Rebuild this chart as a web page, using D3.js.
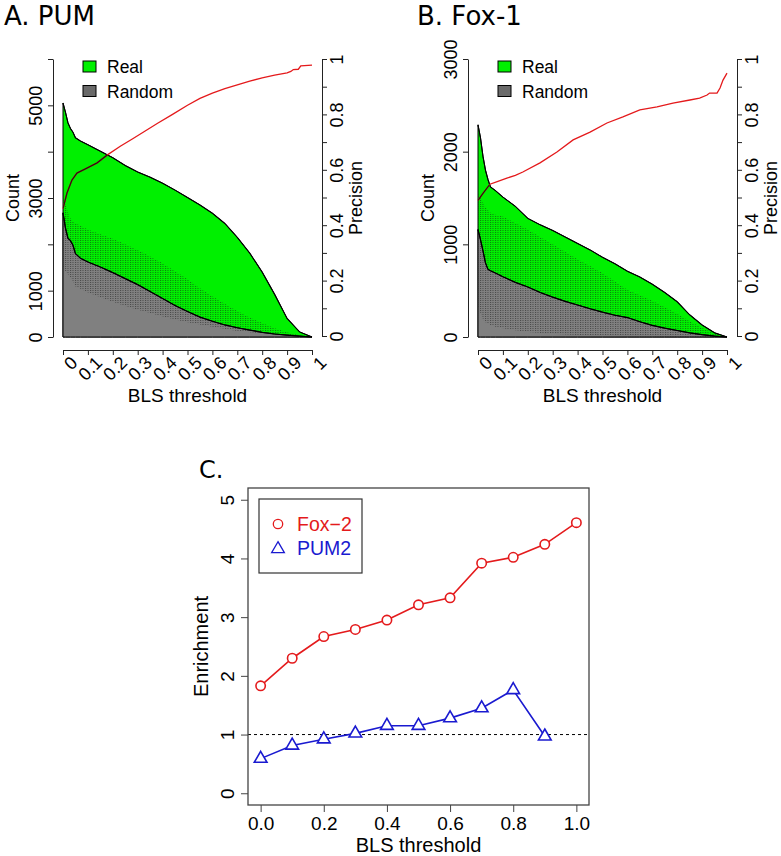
<!DOCTYPE html>
<html><head><meta charset="utf-8">
<script src="https://cdn.jsdelivr.net/npm/d3@7"></script>
<style>
body{margin:0;background:#fff;}
svg{display:block;font-family:"Liberation Sans",Arial,Helvetica,sans-serif;}
</style></head><body>
<svg id="c" width="781" height="856"></svg>
<script>
// ---------- data ----------
const gridX = [0,0.01,0.02,0.03,0.04,0.05,0.07,0.1,0.15,0.2,0.25,0.3,0.35,0.4,0.45,0.5,0.55,0.6,0.65,0.7,0.75,0.8,0.85,0.9,0.95,1];

const pumReal   = [5050,4850,4620,4500,4420,4300,4230,4150,4010,3870,3700,3560,3450,3320,3170,3010,2850,2670,2450,2150,1810,1400,920,400,110,0];
const pumRandom = [2680,2350,2130,2080,1980,1800,1700,1620,1510,1390,1260,1130,980,830,680,550,430,340,260,200,150,100,65,40,20,0];
const pumHigh   = [3000,2850,2700,2560,2490,2460,2400,2320,2220,2120,2000,1880,1740,1590,1420,1250,1050,880,720,560,420,300,190,100,40,0];
const pumLow    = [1500,1420,1350,1280,1200,1090,1040,960,860,760,670,590,520,440,380,320,270,220,170,130,100,80,50,30,12,0];
const pumPrecX  = [0,0.016,0.036,0.056,0.096,0.137,0.177,0.23,0.28,0.33,0.38,0.44,0.5,0.55,0.6,0.65,0.7,0.75,0.8,0.85,0.9,0.915,0.925,0.945,0.955,1];
const pumPrec   = [0.46,0.516,0.563,0.588,0.606,0.625,0.653,0.685,0.712,0.74,0.768,0.8,0.833,0.858,0.877,0.893,0.907,0.92,0.932,0.942,0.95,0.955,0.962,0.963,0.975,0.978];

const foxReal   = [2290,2150,1950,1800,1700,1620,1580,1510,1410,1280,1210,1150,1080,1010,940,860,790,710,647,570,480,380,240,130,45,0];
const foxRandom = [1160,1050,930,800,730,715,690,650,590,540,480,430,385,345,305,268,235,210,165,125,95,70,45,25,10,0];
const foxHigh   = [1550,1500,1450,1400,1370,1340,1320,1300,1230,1160,1080,1000,920,840,765,690,600,510,450,390,320,250,170,100,40,0];
const foxLow    = [330,260,190,160,145,130,110,95,72,55,44,35,28,22,18,14,11,8,6,5,4,3,2,1,0,0];
const foxPrecX  = [0,0.02,0.048,0.08,0.116,0.15,0.18,0.249,0.317,0.382,0.45,0.518,0.582,0.65,0.719,0.783,0.851,0.89,0.92,0.93,0.96,0.972,0.984,1];
const foxPrec   = [0.49,0.515,0.548,0.558,0.57,0.58,0.592,0.625,0.664,0.708,0.736,0.769,0.791,0.816,0.827,0.841,0.852,0.859,0.87,0.877,0.877,0.895,0.924,0.949];

const blsTicks  = [0,0.1,0.2,0.3,0.4,0.5,0.6,0.7,0.8,0.9,1];
const blsLabels = ["0","0.1","0.2","0.3","0.4","0.5","0.6","0.7","0.8","0.9","1"];
const precTicks = [0,0.1,0.2,0.3,0.4,0.5,0.6,0.7,0.8,0.9,1];
const precLabels= ["0","","0.2","","0.4","","0.6","","0.8","","1"];
const pumCountTicks  = [0,1000,2000,3000,4000,5000,6000];
const pumCountLabels = ["0","1000","","3000","","5000",""];
const foxCountTicks  = [0,1000,2000,3000];
const foxCountLabels = ["0","1000","2000","3000"];
const legendTop = ["Real","Random"];

const enrX     = [0,0.1,0.2,0.3,0.4,0.5,0.6,0.7,0.8,0.9,1.0];
const fox2Enr  = [1.83,2.30,2.67,2.79,2.95,3.21,3.33,3.92,4.02,4.24,4.61];
const pum2X    = [0,0.1,0.2,0.3,0.4,0.5,0.6,0.7,0.8,0.9];
const pum2Enr  = [0.59,0.815,0.92,1.02,1.15,1.15,1.28,1.45,1.76,0.97];
const enrXTicks = [0,0.2,0.4,0.6,0.8,1.0];
const enrYTicks = [0,1,2,3,4,5];
const legendC = ["Fox\u22122","PUM2"];

// ---------- style ----------
const GREEN = "#00f000", GRAY = "#808080", LEGGRAY = "#6a6a6a", RED = "#e41a1c", BLUE = "#1a1ad0";
const svg = d3.select("#c");
const defs = svg.append("defs");
const pat = defs.append("pattern").attr("id","stip").attr("patternUnits","userSpaceOnUse")
  .attr("width",2.5).attr("height",2);
pat.append("rect").attr("width",1).attr("height",1).attr("fill","#1a1a1a").attr("fill-opacity",0.55);

function topPanel(o){
  const g = svg.append("g");
  const x = d3.scaleLinear().domain([0,1]).range([o.x0, o.x0+249]);
  const y = d3.scaleLinear().domain([0,o.yMax]).range([337,59]);
  const yp = d3.scaleLinear().domain([0,1]).range([336,59]);
  const area = d3.area().x((d,i)=>x(gridX[i])).y0(y(0)).y1(d=>y(d));
  const band = d3.area().x((d,i)=>x(gridX[i])).y0((d,i)=>y(o.low[i])).y1((d,i)=>y(o.high[i]));
  const realD = area(o.real) + "";
  g.append("path").attr("d", realD).attr("fill", GREEN).attr("stroke","#000").attr("stroke-width",1);
  g.append("path").attr("d", area(o.random)).attr("fill", GRAY).attr("stroke","#000").attr("stroke-width",1);
  g.append("path").attr("d", band(o.real)).attr("fill","url(#stip)");
  const ln = d3.line().x((d,i)=>x(gridX[i])).y(d=>y(d));
  g.append("path").attr("d", ln(o.random)).attr("fill","none").attr("stroke","#000").attr("stroke-width",1.2);
  g.append("path").attr("d", ln(o.real)).attr("fill","none").attr("stroke","#000").attr("stroke-width",1.1);
  // precision
  const cid = "clip"+o.id;
  defs.append("clipPath").attr("id",cid).append("path").attr("d", realD);
  const pl = d3.line().x((d,i)=>x(o.precX[i])).y(d=>yp(d));
  g.append("path").attr("d", pl(o.prec)).attr("fill","none").attr("stroke",RED).attr("stroke-width",1.3);
  g.append("path").attr("d", pl(o.prec)).attr("fill","none").attr("stroke","#2a1a10").attr("stroke-width",1.3)
    .attr("clip-path",`url(#${cid})`);

  // left axis
  const la = g.append("g").attr("transform",`translate(${o.x0-10},0)`)
    .call(d3.axisLeft(y).tickValues(o.yTicks).tickSize(5).tickSizeOuter(0).tickFormat((d,i)=>o.yLabels[i]));
  la.selectAll("text").attr("x",null).attr("dy",null).attr("text-anchor","middle")
    .attr("transform","translate(-11.5,0) rotate(-90)");
  // right axis
  const ra = g.append("g").attr("transform",`translate(${o.x0+259},0)`)
    .call(d3.axisRight(yp).tickValues(precTicks).tickSize(5).tickSizeOuter(0).tickFormat((d,i)=>precLabels[i]));
  ra.selectAll("text").attr("x",null).attr("dy",null).attr("text-anchor","middle")
    .attr("transform","translate(20.5,0) rotate(-90)");
  // bottom axis
  const ba = g.append("g").attr("transform","translate(0,350)")
    .call(d3.axisBottom(x).tickValues(blsTicks).tickSize(5).tickSizeOuter(0).tickFormat((d,i)=>blsLabels[i]));
  ba.selectAll("text").attr("y",null).attr("dy",null).attr("text-anchor","end")
    .attr("transform","translate(15,14) rotate(-45)");
  [la,ra,ba].forEach(a=>{
    a.selectAll("text").attr("font-size",18).attr("fill","#000").attr("font-family","Liberation Sans, Arial, sans-serif");
    a.selectAll("path,line").attr("stroke","#222");
  });
  // axis titles
  g.append("text").attr("transform",`translate(${o.x0-44},198) rotate(-90)`).attr("text-anchor","middle")
    .attr("font-size",18).text("Count");
  g.append("text").attr("transform",`translate(${o.x0+299},198) rotate(-90)`).attr("text-anchor","middle")
    .attr("font-size",18).text("Precision");
  g.append("text").attr("x",o.x0+124.5).attr("y",402).attr("text-anchor","middle").attr("font-size",19).text("BLS threshold");
  // legend
  const lx = o.x0+20;
  [GREEN, LEGGRAY].forEach((c,i)=>{
    g.append("rect").attr("x",lx).attr("y",61+i*24.5).attr("width",13).attr("height",11)
      .attr("fill",c).attr("stroke","#000").attr("stroke-width",1);
    g.append("text").attr("x",lx+24).attr("y",73+i*24.5).attr("font-size",17.5).text(legendTop[i]);
  });
  // title
  svg.append("text").attr("x",o.tx).attr("y",25).attr("font-family","DejaVu Sans, sans-serif")
    .attr("font-size",26).text(o.title);
}

topPanel({id:"A", x0:63, yMax:6000, yTicks:pumCountTicks, yLabels:pumCountLabels,
  real:pumReal, random:pumRandom, high:pumHigh, low:pumLow, precX:pumPrecX, prec:pumPrec, title:"A. PUM", tx:4});
topPanel({id:"B", x0:478, yMax:3000, yTicks:foxCountTicks, yLabels:foxCountLabels,
  real:foxReal, random:foxRandom, high:foxHigh, low:foxLow, precX:foxPrecX, prec:foxPrec, title:"B. Fox-1", tx:417});

// ---------- panel C ----------
(function(){
  const g = svg.append("g");
  const L=248, R=589, T=488, B=805;
  const x = d3.scaleLinear().domain([-0.04,1.04]).range([L,R]);
  const y = d3.scaleLinear().domain([-0.2,5.2]).range([B,T]);
  g.append("line").attr("x1",L).attr("x2",R).attr("y1",y(1)).attr("y2",y(1))
    .attr("stroke","#000").attr("stroke-width",1).attr("stroke-dasharray","3,3");
  // lines
  const lr = d3.line().x((d,i)=>x(enrX[i])).y(d=>y(d));
  g.append("path").attr("d",lr(fox2Enr)).attr("fill","none").attr("stroke",RED).attr("stroke-width",1.6);
  const lb = d3.line().x((d,i)=>x(pum2X[i])).y(d=>y(d));
  g.append("path").attr("d",lb(pum2Enr)).attr("fill","none").attr("stroke",BLUE).attr("stroke-width",1.6);
  g.selectAll("circle.f").data(fox2Enr).join("circle").attr("class","f")
    .attr("cx",(d,i)=>x(enrX[i])).attr("cy",d=>y(d)).attr("r",4.7)
    .attr("fill","#fff").attr("stroke",RED).attr("stroke-width",1.6);
  const tri = (cx,cy)=>`M${cx},${cy-7.3}L${cx+6.35},${cy+3.67}L${cx-6.35},${cy+3.67}Z`;
  g.selectAll("path.t").data(pum2Enr).join("path").attr("class","t")
    .attr("d",(d,i)=>tri(x(pum2X[i]),y(d))).attr("fill","#fff").attr("stroke",BLUE).attr("stroke-width",1.6);
  // box
  g.append("rect").attr("x",L).attr("y",T).attr("width",R-L).attr("height",B-T)
    .attr("fill","none").attr("stroke","#444").attr("stroke-width",1.3);
  const bx = g.append("g").attr("transform",`translate(0,${B})`)
    .call(d3.axisBottom(x).tickValues(enrXTicks).tickSize(7).tickFormat(d3.format(".1f")));
  bx.select(".domain").remove();
  bx.selectAll("text").attr("y",25).attr("dy",null);
  const ly = g.append("g").attr("transform",`translate(${L},0)`)
    .call(d3.axisLeft(y).tickValues(enrYTicks).tickSize(7).tickFormat(d3.format("d")));
  ly.select(".domain").remove();
  ly.selectAll("text").attr("x",null).attr("dy",null).attr("text-anchor","middle")
    .attr("transform","translate(-14.5,0) rotate(-90)");
  [bx,ly].forEach(a=>{
    a.selectAll("text").attr("font-size",19).attr("fill","#000").attr("font-family","Liberation Sans, Arial, sans-serif");
    a.selectAll("line").attr("stroke","#444");
  });
  g.append("text").attr("x",(L+R)/2).attr("y",852).attr("text-anchor","middle").attr("font-size",20).text("BLS threshold");
  g.append("text").attr("transform",`translate(208,${(T+B)/2}) rotate(-90)`).attr("text-anchor","middle")
    .attr("font-size",20).text("Enrichment");
  // legend
  g.append("rect").attr("x",259).attr("y",499).attr("width",103).attr("height",74)
    .attr("fill","#fff").attr("stroke","#333").attr("stroke-width",1.2);
  g.append("circle").attr("cx",278).attr("cy",524).attr("r",4.7).attr("fill","#fff").attr("stroke",RED).attr("stroke-width",1.3);
  g.append("path").attr("d",tri(278,549)).attr("fill","#fff").attr("stroke",BLUE).attr("stroke-width",1.3);
  g.append("text").attr("x",297).attr("y",531).attr("font-size",19.5).attr("fill",RED).text(legendC[0]);
  g.append("text").attr("x",297).attr("y",555).attr("font-size",19.5).attr("fill",BLUE).text(legendC[1]);
  svg.append("text").attr("x",199).attr("y",478).attr("font-family","DejaVu Sans, sans-serif")
    .attr("font-size",24).text("C.");
})();
</script>
</body></html>
